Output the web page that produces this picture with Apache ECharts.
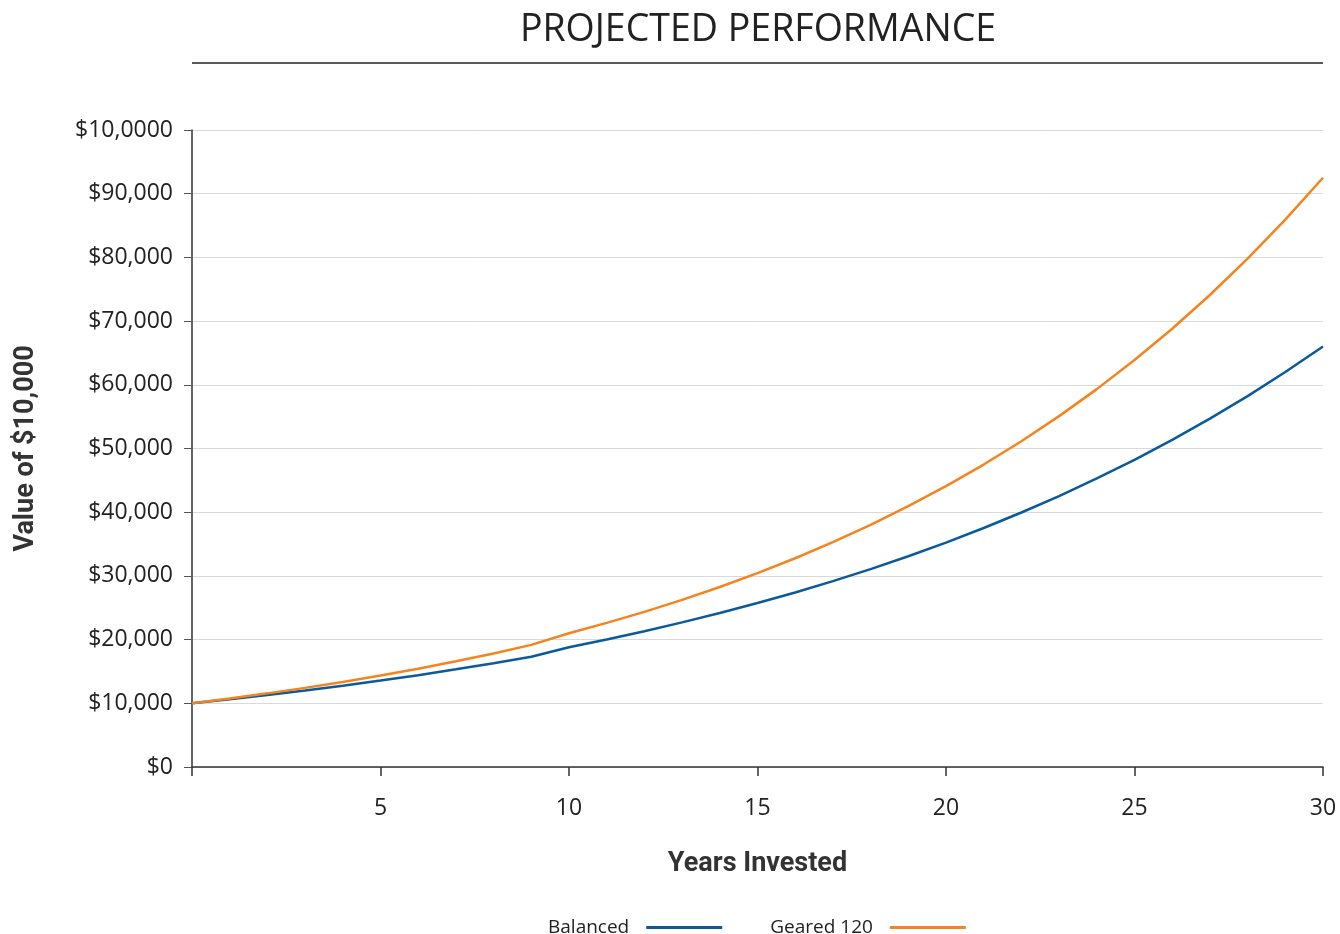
<!DOCTYPE html>
<html>
<head>
<meta charset="utf-8">
<script src="https://cdn.jsdelivr.net/npm/echarts@6/dist/echarts.min.js"></script>
<style>
  html, body { margin: 0; padding: 0; background: #fff; }
  #chart { width: 1340px; height: 934px; }
</style>
</head>
<body>
<div id="chart"></div>
<script>
// years 0..30
var years = [];
for (var i = 0; i <= 30; i++) years.push(i);

// values
var balanced = [10000, 10630, 11300, 12010, 12760, 13570, 14420, 15330, 16290, 17310,
                18800, 20020, 21310, 22700, 24170, 25740, 27400, 29180, 31070, 33090,
                35230, 37520, 39950, 42540, 45300, 48230, 51360, 54690, 58230, 62000, 66020];
var geared120 = [10000, 10750, 11560, 12420, 13350, 14350, 15430, 16590, 17830, 19170,
                 21000, 22620, 24360, 26230, 28250, 30430, 32770, 35290, 38010, 40940,
                 44090, 47480, 51140, 55080, 59320, 63880, 68800, 74100, 79800, 85940, 92500];

var yTickLabels = ['$0', '$10,000', '$20,000', '$30,000', '$40,000', '$50,000',
                   '$60,000', '$70,000', '$80,000', '$90,000', '$10,0000'];

var font = '"Open Sans", "Noto Sans", sans-serif';

var chart = echarts.init(document.getElementById('chart'));

chart.setOption({
    animation: false,
    title: {
        text: 'PROJECTED PERFORMANCE',
        left: 753,
        textAlign: 'center',
        top: 6,
        textStyle: { fontFamily: font, fontWeight: 'normal', fontSize: 37.5, color: '#222' }
    },
    graphic: [{
        type: 'line',
        shape: { x1: 192, y1: 63, x2: 1323, y2: 63 },
        style: { stroke: '#222', lineWidth: 1.5 }
    }],
    legend: {
        top: 913,
        left: 543,
        align: 'right',
        icon: 'rect',
        itemWidth: 76,
        itemHeight: 3,
        itemGap: 48,
        textStyle: { fontFamily: font, fontSize: 19, color: '#222', padding: [0, 12, 0, 0] },
        data: ['Balanced', 'Geared 120']
    },
    grid: { left: 192, right: 17, top: 130, bottom: 167 },
    xAxis: {
        type: 'value',
        min: 0,
        max: 30,
        interval: 5,
        name: 'Years Invested',
        nameLocation: 'middle',
        nameGap: 84,
        nameTextStyle: { fontFamily: 'Roboto, sans-serif', fontWeight: 'bold', fontSize: 27, color: '#333' },
        axisLine: { lineStyle: { color: '#333', width: 1.5 } },
        axisTick: { length: 9, lineStyle: { color: '#333', width: 1.5 } },
        axisLabel: {
            margin: 30,
            fontFamily: font, fontSize: 23, color: '#222',
            formatter: function (v) { return v === 0 ? '' : String(v); }
        },
        splitLine: { show: false }
    },
    yAxis: {
        type: 'value',
        min: 0,
        max: 100000,
        interval: 10000,
        name: 'Value of $10,000',
        nameLocation: 'middle',
        nameGap: 152,
        nameTextStyle: { fontFamily: 'Roboto, sans-serif', fontWeight: 'bold', fontSize: 27, color: '#333' },
        axisLine: { show: true, lineStyle: { color: '#333', width: 1.5 } },
        axisTick: { show: true, length: 8, lineStyle: { color: '#555' } },
        axisLabel: {
            margin: 19,
            fontFamily: font, fontSize: 23, color: '#222',
            formatter: function (v) { return yTickLabels[Math.round(v / 10000)]; }
        },
        splitLine: { lineStyle: { color: '#d9d9d9', width: 1 } }
    },
    series: [{
        name: 'Balanced',
        type: 'line',
        data: years.map(function (y, i) { return [y, balanced[i]]; }),
        showSymbol: false,
        smooth: false,
        itemStyle: { color: '#0b5a9c' },
        lineStyle: { color: '#0b5a9c', width: 2.5 }
    }, {
        name: 'Geared 120',
        type: 'line',
        data: years.map(function (y, i) { return [y, geared120[i]]; }),
        showSymbol: false,
        smooth: false,
        itemStyle: { color: '#f5841f' },
        lineStyle: { color: '#f5841f', width: 2.5 }
    }]
});
</script>
</body>
</html>
